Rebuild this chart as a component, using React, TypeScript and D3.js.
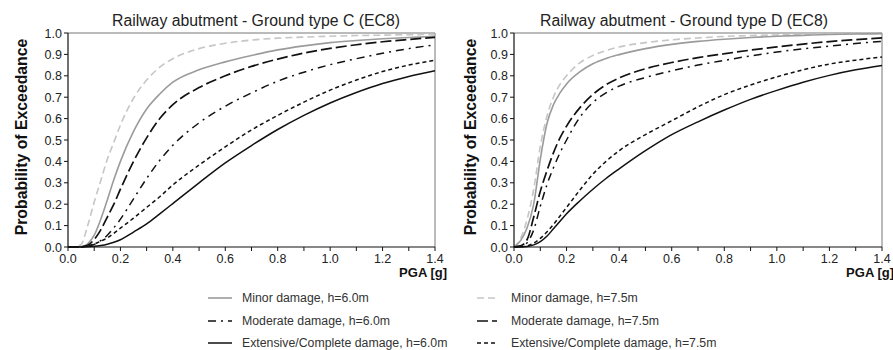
import React from "react";
import * as d3 from "d3";

// PGA sample points [g] shared by every fragility curve
const PGA = [0, 0.025, 0.05, 0.075, 0.1, 0.125, 0.15, 0.175, 0.2, 0.25, 0.3, 0.35, 0.4, 0.5, 0.6, 0.7, 0.8, 0.9, 1.0, 1.1, 1.2, 1.3, 1.4];

// Ground type C
const C_MINOR_60 = [0, 0, 0.002, 0.015, 0.055, 0.13, 0.22, 0.315, 0.4, 0.54, 0.645, 0.715, 0.77, 0.828, 0.865, 0.895, 0.921, 0.94, 0.955, 0.965, 0.973, 0.979, 0.984];
const C_MINOR_75 = [0, 0.001, 0.012, 0.1, 0.21, 0.31, 0.41, 0.49, 0.57, 0.695, 0.78, 0.84, 0.88, 0.927, 0.952, 0.967, 0.976, 0.981, 0.985, 0.988, 0.99, 0.992, 0.993];
const C_MODERATE_60 = [0, 0, 0, 0.003, 0.012, 0.03, 0.055, 0.09, 0.13, 0.225, 0.32, 0.405, 0.475, 0.58, 0.658, 0.72, 0.775, 0.817, 0.852, 0.88, 0.905, 0.927, 0.945];
const C_MODERATE_75 = [0, 0, 0.001, 0.008, 0.035, 0.08, 0.14, 0.2, 0.27, 0.4, 0.51, 0.6, 0.665, 0.745, 0.8, 0.844, 0.878, 0.906, 0.928, 0.945, 0.959, 0.97, 0.98];
const C_EXTENSIVE_60 = [0, 0, 0, 0.001, 0.003, 0.007, 0.013, 0.022, 0.034, 0.07, 0.108, 0.155, 0.203, 0.3, 0.393, 0.474, 0.549, 0.615, 0.673, 0.722, 0.764, 0.797, 0.824];
const C_EXTENSIVE_75 = [0, 0, 0.001, 0.006, 0.014, 0.027, 0.043, 0.064, 0.088, 0.135, 0.185, 0.235, 0.29, 0.383, 0.468, 0.547, 0.615, 0.677, 0.733, 0.78, 0.82, 0.85, 0.873];

// Ground type D
const D_MINOR_60 = [0, 0.03, 0.09, 0.2, 0.41, 0.575, 0.665, 0.72, 0.762, 0.818, 0.856, 0.881, 0.899, 0.927, 0.947, 0.961, 0.971, 0.979, 0.985, 0.989, 0.993, 0.995, 0.997];
const D_MINOR_75 = [0, 0.04, 0.13, 0.27, 0.47, 0.61, 0.7, 0.76, 0.8, 0.86, 0.895, 0.918, 0.935, 0.955, 0.968, 0.977, 0.984, 0.988, 0.991, 0.994, 0.996, 0.997, 0.998];
const D_MODERATE_60 = [0, 0.003, 0.02, 0.08, 0.19, 0.29, 0.37, 0.44, 0.5, 0.605, 0.675, 0.72, 0.752, 0.792, 0.823, 0.85, 0.872, 0.893, 0.911, 0.926, 0.939, 0.951, 0.961];
const D_MODERATE_75 = [0, 0.005, 0.035, 0.14, 0.26, 0.355, 0.44, 0.51, 0.565, 0.65, 0.713, 0.758, 0.79, 0.833, 0.862, 0.885, 0.903, 0.92, 0.935, 0.948, 0.96, 0.969, 0.977];
const D_EXTENSIVE_60 = [0, 0, 0.002, 0.01, 0.025, 0.05, 0.085, 0.12, 0.155, 0.215, 0.27, 0.32, 0.365, 0.45, 0.525, 0.585, 0.64, 0.69, 0.732, 0.77, 0.802, 0.828, 0.848];
const D_EXTENSIVE_75 = [0, 0.001, 0.005, 0.018, 0.04, 0.07, 0.105, 0.145, 0.185, 0.265, 0.34, 0.4, 0.45, 0.525, 0.59, 0.655, 0.712, 0.757, 0.795, 0.828, 0.855, 0.873, 0.888];

const X_TICKS = [0, 0.1, 0.2, 0.3, 0.4, 0.5, 0.6, 0.7, 0.8, 0.9, 1.0, 1.1, 1.2, 1.3, 1.4];
const X_LABELS = [0, 0.2, 0.4, 0.6, 0.8, 1.0, 1.2, 1.4];
const Y_TICKS = [0, 0.1, 0.2, 0.3, 0.4, 0.5, 0.6, 0.7, 0.8, 0.9, 1.0];

const TITLES = ["Railway abutment - Ground type C (EC8)", "Railway abutment - Ground type D (EC8)"];
const Y_TITLE = "Probability of Exceedance";
const X_TITLE = "PGA [g]";

const SERIES_KEYS = ["minor60", "minor75", "moderate60", "moderate75", "extensive60", "extensive75"];
const SERIES_LABELS = [
  "Minor damage, h=6.0m",
  "Minor damage, h=7.5m",
  "Moderate damage, h=6.0m",
  "Moderate damage, h=7.5m",
  "Extensive/Complete damage, h=6.0m",
  "Extensive/Complete damage, h=7.5m",
];

const FONT = "'Liberation Sans', Arial, Helvetica, sans-serif";

type LineStyle = { stroke: string; width: number; dash?: string };
const STYLES: Record<string, LineStyle> = {
  minor60: { stroke: "#9b9b9b", width: 1.6 },
  minor75: { stroke: "#c6c6c6", width: 1.6, dash: "7,4" },
  moderate60: { stroke: "#111", width: 1.5, dash: "8,5,2,5" },
  moderate75: { stroke: "#111", width: 1.7, dash: "11,4" },
  extensive60: { stroke: "#111", width: 1.5 },
  extensive75: { stroke: "#111", width: 1.5, dash: "4,3" },
};

type PanelProps = {
  title: string;
  titleX: number;
  left: number;
  right: number;
  yLabelX: number;
  curves: { key: string; values: number[] }[];
};

const TOP = 33;
const BOTTOM = 247;

function Panel({ title, titleX, left, right, yLabelX, curves }: PanelProps) {
  const x = d3.scaleLinear().domain([0, 1.4]).range([left, right]);
  const y = d3.scaleLinear().domain([0, 1]).range([BOTTOM, TOP]);
  const line = d3
    .line<number>()
    .x((_, i) => x(PGA[i]))
    .y((d) => y(d))
    .curve(d3.curveMonotoneX);
  const fmt = d3.format(".1f");

  return (
    <g>
      <text x={titleX} y={26} textAnchor="middle" fontSize={15.8} fill="#222" fontFamily={FONT}>
        {title}
      </text>
      {/* frame */}
      <line x1={left} x2={right} y1={TOP} y2={TOP} stroke="#777" strokeWidth={1} />
      <line x1={right} x2={right} y1={TOP} y2={BOTTOM} stroke="#777" strokeWidth={1} />
      {curves.map((c) => {
        const s = STYLES[c.key];
        return (
          <path
            key={c.key}
            d={line(c.values) || ""}
            fill="none"
            stroke={s.stroke}
            strokeWidth={s.width}
            strokeDasharray={s.dash}
          />
        );
      })}
      {/* axes */}
      <line x1={left} x2={right} y1={BOTTOM} y2={BOTTOM} stroke="#111" strokeWidth={1.2} />
      <line x1={left} x2={left} y1={TOP} y2={BOTTOM} stroke="#111" strokeWidth={1.2} />
      {X_TICKS.map((t) => (
        <line key={"xt" + t} x1={x(t)} x2={x(t)} y1={BOTTOM} y2={BOTTOM + 4} stroke="#111" strokeWidth={1} />
      ))}
      {X_LABELS.map((t) => (
        <text key={"xl" + t} x={x(t)} y={263} textAnchor="middle" fontSize={12.5} fill="#222" fontFamily={FONT}>
          {fmt(t)}
        </text>
      ))}
      {Y_TICKS.map((t) => (
        <g key={"yt" + t}>
          <line x1={left - 4} x2={left} y1={y(t)} y2={y(t)} stroke="#111" strokeWidth={1} />
          <text x={left - 6} y={y(t) + 4.5} textAnchor="end" fontSize={12.5} fill="#222" fontFamily={FONT}>
            {fmt(t)}
          </text>
        </g>
      ))}
      <text
        transform={`translate(${yLabelX},${(TOP + BOTTOM) / 2 - 3}) rotate(-90)`}
        textAnchor="middle"
        dominantBaseline="central"
        fontSize={15.8}
        fontWeight="bold"
        fill="#111"
        fontFamily={FONT}
      >
        {Y_TITLE}
      </text>
      <text x={right + 12} y={277} textAnchor="end" fontSize={13} fontWeight="bold" fill="#111" fontFamily={FONT}>
        {X_TITLE}
      </text>
    </g>
  );
}

function Legend() {
  const cols = [
    { sx: 208, sw: 24, tx: 242 },
    { sx: 477, sw: 20, tx: 511 },
  ];
  const rows = [298, 321, 343];
  return (
    <g>
      {SERIES_KEYS.map((k, i) => {
        const col = cols[i % 2];
        const ry = rows[Math.floor(i / 2)];
        const s = STYLES[k];
        return (
          <g key={k}>
            <line
              x1={col.sx}
              x2={col.sx + col.sw}
              y1={ry}
              y2={ry}
              stroke={s.stroke}
              strokeWidth={s.width}
              strokeDasharray={s.dash}
            />
            <text x={col.tx} y={ry + 4.3} fontSize={12.3} fill="#333" fontFamily={FONT}>
              {SERIES_LABELS[i]}
            </text>
          </g>
        );
      })}
    </g>
  );
}

export default function App() {
  const curvesC = [
    { key: "minor75", values: C_MINOR_75 },
    { key: "minor60", values: C_MINOR_60 },
    { key: "extensive75", values: C_EXTENSIVE_75 },
    { key: "extensive60", values: C_EXTENSIVE_60 },
    { key: "moderate60", values: C_MODERATE_60 },
    { key: "moderate75", values: C_MODERATE_75 },
  ];
  const curvesD = [
    { key: "minor75", values: D_MINOR_75 },
    { key: "minor60", values: D_MINOR_60 },
    { key: "extensive75", values: D_EXTENSIVE_75 },
    { key: "extensive60", values: D_EXTENSIVE_60 },
    { key: "moderate60", values: D_MODERATE_60 },
    { key: "moderate75", values: D_MODERATE_75 },
  ];
  return (
    <div style={{ position: "fixed", left: 0, top: 0 }}>
      <svg width={893} height={350} style={{ display: "block", background: "#fff" }}>
        <Panel title={TITLES[0]} titleX={256} left={68} right={435} yLabelX={21} curves={curvesC} />
        <Panel title={TITLES[1]} titleX={684} left={514} right={882} yLabelX={470} curves={curvesD} />
        <Legend />
      </svg>
    </div>
  );
}
